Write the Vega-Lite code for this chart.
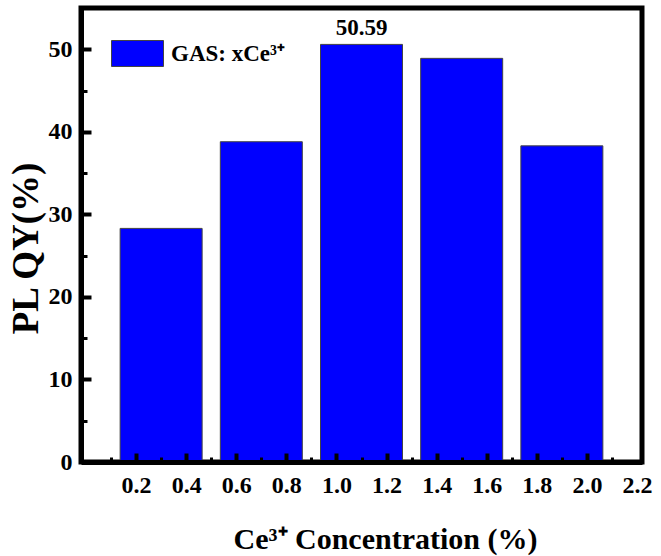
{
  "$schema": "https://vega.github.io/schema/vega-lite/v6.json",
  "width": 561,
  "height": 454,
  "autosize": "none",
  "padding": {"left": 81, "top": 8, "right": 19, "bottom": 94},
  "background": "white",
  "config": {
    "view": {"stroke": "black", "strokeWidth": 5},
    "font": "Liberation Serif",
    "axis": {
      "grid": false,
      "labelFont": "Liberation Serif",
      "labelFontWeight": "bold",
      "labelFontSize": 24,
      "labelColor": "black",
      "labelFlush": false,
      "labelOverlap": false,
      "titleFont": "Liberation Serif",
      "titleFontWeight": "bold",
      "titleColor": "black",
      "domainColor": "black",
      "domainWidth": 5,
      "tickColor": "black",
      "tickWidth": 4
    }
  },
  "data": {
    "values": [
      {"conc": 0.3, "qy": 28.3, "series": "GAS: xCe³⁺"},
      {"conc": 0.7, "qy": 38.8, "series": "GAS: xCe³⁺"},
      {"conc": 1.1, "qy": 50.59, "series": "GAS: xCe³⁺", "show": true},
      {"conc": 1.5, "qy": 48.9, "series": "GAS: xCe³⁺"},
      {"conc": 1.9, "qy": 38.3, "series": "GAS: xCe³⁺"}
    ]
  },
  "resolve": {"axis": {"x": "independent", "y": "independent"}},
  "layer": [
    {
      "mark": {"type": "bar", "size": 82, "stroke": "#444444", "strokeWidth": 1},
      "encoding": {
        "x": {
          "field": "conc",
          "type": "quantitative",
          "scale": {"domain": [0, 2.2], "nice": false, "zero": false},
          "axis": {
            "orient": "bottom",
            "zindex": 1,
            "values": [0.2, 0.4, 0.6, 0.8, 1.0, 1.2, 1.4, 1.6, 1.8, 2.0, 2.2],
            "format": ".1f",
            "ticks": false,
            "labelPadding": 11,
            "title": "Ce³⁺ Concentration (%)",
            "titleFontSize": 30,
            "titleAnchor": "middle",
            "titleX": 304,
            "titleY": 86,
            "titleBaseline": "alphabetic"
          }
        },
        "y": {
          "field": "qy",
          "type": "quantitative",
          "scale": {"domain": [0, 55], "nice": false},
          "axis": {
            "orient": "left",
            "zindex": 1,
            "values": [0, 10, 20, 30, 40, 50],
            "ticks": false,
            "labelPadding": 9,
            "title": "PL QY(%)",
            "titleFontSize": 37,
            "titleAnchor": "middle",
            "titleX": -44,
            "titleY": 240,
            "titleBaseline": "alphabetic"
          }
        },
        "color": {
          "field": "series",
          "type": "nominal",
          "scale": {"range": ["#0000ff"]},
          "legend": {
            "orient": "none",
            "legendX": 30,
            "legendY": 19,
            "title": null,
            "padding": 0,
            "symbolType": "M-1,-0.5H1V0.5H-1Z",
            "symbolSize": 2704,
            "symbolStrokeColor": "#444444",
            "symbolStrokeWidth": 1,
            "symbolOpacity": 1,
            "labelFont": "Liberation Serif",
            "labelFontWeight": "bold",
            "labelFontSize": 23,
            "labelColor": "black",
            "labelOffset": 7
          }
        }
      }
    },
    {
      "mark": {"type": "point", "opacity": 0},
      "encoding": {
        "x": {
          "field": "conc",
          "type": "quantitative",
          "axis": {
            "orient": "bottom",
            "zindex": 1,
            "values": [0.2, 0.4, 0.6, 0.8, 1.0, 1.2, 1.4, 1.6, 1.8, 2.0],
            "labels": false,
            "domain": false,
            "tickSize": -9,
            "tickWidth": 4,
            "title": null
          }
        },
        "y": {
          "field": "qy",
          "type": "quantitative",
          "axis": {
            "orient": "left",
            "zindex": 1,
            "values": [10, 20, 30, 40, 50],
            "labels": false,
            "domain": false,
            "tickSize": -10,
            "tickWidth": 4,
            "title": null
          }
        }
      }
    },
    {
      "mark": {"type": "point", "opacity": 0},
      "encoding": {
        "x": {
          "field": "conc",
          "type": "quantitative",
          "axis": {
            "orient": "bottom",
            "zindex": 1,
            "values": [0.1, 0.3, 0.5, 0.7, 0.9, 1.1, 1.3, 1.5, 1.7, 1.9, 2.1],
            "labels": false,
            "domain": false,
            "tickSize": -5,
            "tickWidth": 3,
            "title": null
          }
        },
        "y": {
          "field": "qy",
          "type": "quantitative",
          "axis": {
            "orient": "left",
            "zindex": 1,
            "values": [5, 15, 25, 35, 45],
            "labels": false,
            "domain": false,
            "tickSize": -6,
            "tickWidth": 3,
            "title": null
          }
        }
      }
    },
    {
      "transform": [{"filter": "datum.show"}],
      "mark": {"type": "text", "dy": -9, "baseline": "alphabetic", "font": "Liberation Serif", "fontWeight": "bold", "fontSize": 23, "color": "black"},
      "encoding": {
        "x": {"field": "conc", "type": "quantitative", "axis": null},
        "y": {"field": "qy", "type": "quantitative", "axis": null},
        "text": {"field": "qy", "type": "quantitative", "format": ".2f"}
      }
    }
  ]
}
